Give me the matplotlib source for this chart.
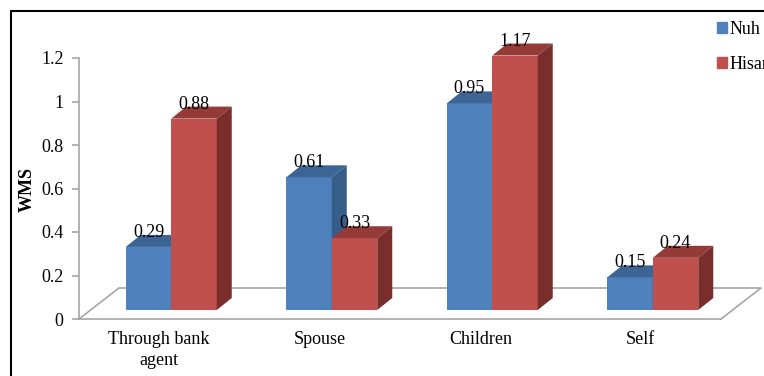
import matplotlib

matplotlib.use("Agg")
import matplotlib.pyplot as plt
from matplotlib.patches import Polygon, Rectangle
from matplotlib.lines import Line2D

categories = ["Through bank\nagent", "Spouse", "Children", "Self"]
series_names = ["Nuh", "Hisar"]
nuh = [0.29, 0.61, 0.95, 0.15]
hisar = [0.88, 0.33, 1.17, 0.24]
y_ticks = [0, 0.2, 0.4, 0.6, 0.8, 1, 1.2]
y_tick_labels = ["0", "0.2", "0.4", "0.6", "0.8", "1", "1.2"]

W, H = 764, 376
plt.rcParams["font.family"] = ["Liberation Serif", "DejaVu Serif"]
plt.rcParams["font.size"] = 13

fig = plt.figure(figsize=(W / 100, H / 100), dpi=100)
ax_left, ax_right, ax_top, ax_bottom = 79, 721, 58, 319
ax = fig.add_axes([ax_left / W, 1 - ax_bottom / H,
                   (ax_right - ax_left) / W, (ax_bottom - ax_top) / H])
ax.set_xlim(-0.5, len(categories) - 0.5)
ax.set_ylim(0, 1.2)

# pixel -> data unit helpers for the fake 3d look
px_x = (ax_right - ax_left) / len(categories)
px_y = (ax_bottom - ax_top) / 1.2
floor_dx, floor_dy = 40 / px_x, 31 / px_y
front_dx, front_dy = 12 / px_x, 9 / px_y
depth_dx, depth_dy = 15 / px_x, 12 / px_y
bar_w = 45.5 / px_x

grey = "#A6A6A6"
# floor outline (front edge is the bottom spine)
n = len(categories)
fx = [-0.5, -0.5 + floor_dx, n - 0.5 + floor_dx, n - 0.5]
fy = [0, floor_dy, floor_dy, 0]
ax.add_line(Line2D(fx, fy, color=grey, lw=1.2, clip_on=False, zorder=1))

colors = [("#4F81BD", "#3C6595", "#375D89"), ("#C0504D", "#943A37", "#7A2E2C")]

for i in range(n):
    for j, vals in enumerate([nuh, hisar]):
        v = vals[i]
        front, top, side = colors[j]
        x0 = i - bar_w + j * bar_w + front_dx
        x1 = x0 + bar_w
        b = front_dy
        t = front_dy + v
        ax.bar(x0, v, width=bar_w, bottom=b, align="edge", color=front,
               clip_on=False, zorder=3 + i * 2 + j)
        ax.add_patch(Polygon([(x0, t), (x1, t), (x1 + depth_dx, t + depth_dy),
                              (x0 + depth_dx, t + depth_dy)], closed=True,
                             facecolor=top, edgecolor="none", clip_on=False,
                             zorder=3 + i * 2 + j))
        ax.add_patch(Polygon([(x1, b), (x1, t), (x1 + depth_dx, t + depth_dy),
                              (x1 + depth_dx, b + depth_dy)], closed=True,
                             facecolor=side, edgecolor="none", clip_on=False,
                             zorder=3 + i * 2 + j))
        ax.text((x0 + x1) / 2, t + depth_dy - 2 / px_y, f"{v:.2f}",
                ha="center", va="baseline", fontsize=13, zorder=20)

for s in ["top", "right"]:
    ax.spines[s].set_visible(False)
ax.spines["left"].set_color(grey)
ax.spines["bottom"].set_color(grey)
ax.spines["left"].set_linewidth(1.2)
ax.spines["bottom"].set_linewidth(1.2)
ax.set_yticks(y_ticks)
ax.set_yticklabels(y_tick_labels)
ax.tick_params(axis="y", length=5, color=grey, width=1.2, pad=6, labelsize=13)
ax.set_xticks(range(n))
ax.set_xticklabels(categories, linespacing=1.3)
ax.tick_params(axis="x", length=0, pad=9, labelsize=13)
ax.patch.set_visible(False)

fig.text(27 / W, 1 - 189 / H, "WMS", rotation=90, ha="center", va="center",
         fontweight="bold", fontsize=13)

handles = [Rectangle((0, 0), 1, 1, color=c[0]) for c in colors]
fig.legend(handles, series_names, loc="upper left", frameon=False,
           bbox_to_anchor=(717 / W, 1 - 21 / H), bbox_transform=fig.transFigure,
           borderpad=0, borderaxespad=0, handlelength=0.55, handleheight=0.55,
           handletextpad=0.15, labelspacing=1.0, fontsize=13)

fig.patches.append(Rectangle((11 / W, -0.1), 1.2, 1.1 - 11 / H, fill=False,
                             edgecolor="black", lw=1.5,
                             transform=fig.transFigure, figure=fig))

fig.savefig("out.png", dpi=100)
